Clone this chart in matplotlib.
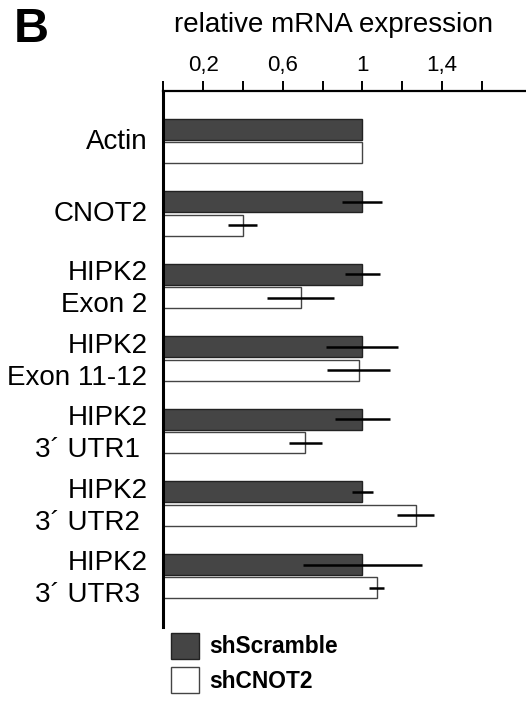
import matplotlib
matplotlib.use("Agg")
import matplotlib.pyplot as plt
from matplotlib.patches import Patch
import numpy as np

plt.rcParams['font.family'] = ['Liberation Sans', 'DejaVu Sans']

# ---- data ----
line1 = ["Actin", "CNOT2", "HIPK2", "HIPK2", "HIPK2", "HIPK2", "HIPK2"]
line2 = ["", "", "Exon 2", "Exon 11-12", "3´ UTR1 ", "3´ UTR2 ", "3´ UTR3 "]
scramble = [1.0, 1.0, 1.0, 1.0, 1.0, 1.0, 1.0]
scramble_err = [0.0, 0.10, 0.089, 0.18, 0.137, 0.053, 0.30]
cnot2 = [1.0, 0.40, 0.69, 0.982, 0.714, 1.268, 1.072]
cnot2_err = [0.0, 0.073, 0.167, 0.158, 0.081, 0.094, 0.037]
tick_vals = [0.2, 0.6, 1.0, 1.4]
tick_labels = ["0,2", "0,6", "1", "1,4"]
minor_vals = [0.0, 0.4, 0.8, 1.2, 1.6]
series_names = ["shScramble", "shCNOT2"]
xlabel = "relative mRNA expression"
panel = "B"

W, H = 526, 701
fig = plt.figure(figsize=(W / 100, H / 100), dpi=100)
ax_left, ax_right, ax_top, ax_bot = 163.3, 526, 91, 627
ax = fig.add_axes([ax_left / W, 1 - ax_bot / H, (ax_right - ax_left) / W, (ax_bot - ax_top) / H])

y = np.arange(len(line1))
off = 0.161
hgt = 0.29
dark = '#454545'
ax.barh(y - off, scramble, height=hgt, color=dark, edgecolor='#222222', linewidth=1.0, zorder=2)
ax.barh(y + off, cnot2, height=hgt, color='white', edgecolor='#444444', linewidth=1.0, zorder=2)
ax.errorbar(scramble, y - off, xerr=scramble_err, fmt='none', ecolor='black', elinewidth=1.8, capsize=0, zorder=3)
ax.errorbar(cnot2, y + off, xerr=cnot2_err, fmt='none', ecolor='black', elinewidth=1.8, capsize=0, zorder=3)

ax.set_xlim(0, (ax_right - ax_left) / 199.0)
ax.set_ylim(6.70, -0.687)

for s in ['right', 'bottom']:
    ax.spines[s].set_visible(False)
ax.spines['top'].set_linewidth(1.6)
ax.spines['left'].set_linewidth(2.2)

ax.xaxis.set_ticks_position('top')
ax.set_xticks(tick_vals)
ax.set_xticklabels(tick_labels, fontsize=16)
ax.set_xticks(minor_vals, minor=True)
ax.tick_params(axis='x', which='both', direction='out', length=7.5, width=1.4, pad=3.4, top=True, bottom=False)
ax.set_yticks([])

# category labels
for i in range(len(line1)):
    if line2[i]:
        ax.annotate(line1[i], xy=(0, y[i]), xycoords='data', xytext=(-16, 6),
                    textcoords='offset pixels', ha='right', va='baseline', fontsize=20,
                    annotation_clip=False)
        ax.annotate(line2[i], xy=(0, y[i]), xycoords='data', xytext=(-16, -26),
                    textcoords='offset pixels', ha='right', va='baseline', fontsize=20,
                    annotation_clip=False)
    else:
        ax.annotate(line1[i], xy=(0, y[i]), xycoords='data', xytext=(-16, -8),
                    textcoords='offset pixels', ha='right', va='baseline', fontsize=20,
                    annotation_clip=False)

fig.text(333 / W, 1 - 32 / H, xlabel, ha='center', va='baseline', fontsize=20)
fig.text(14 / W, 1 - 42 / H, panel, ha='left', va='baseline', fontsize=35, fontweight='bold')

handles = [Patch(facecolor=dark, edgecolor='#222222', linewidth=1.0),
           Patch(facecolor='white', edgecolor='#444444', linewidth=1.0)]
leg = fig.legend(handles, series_names, loc='upper left', bbox_to_anchor=(171 / W, 1 - 633 / H),
                 frameon=False, borderpad=0, borderaxespad=0, handlelength=1.22, handleheight=1.35,
                 handletextpad=0.45, labelspacing=0.38, prop={'weight': 'bold', 'size': 16.4})

fig.savefig("out.png", dpi=100)
